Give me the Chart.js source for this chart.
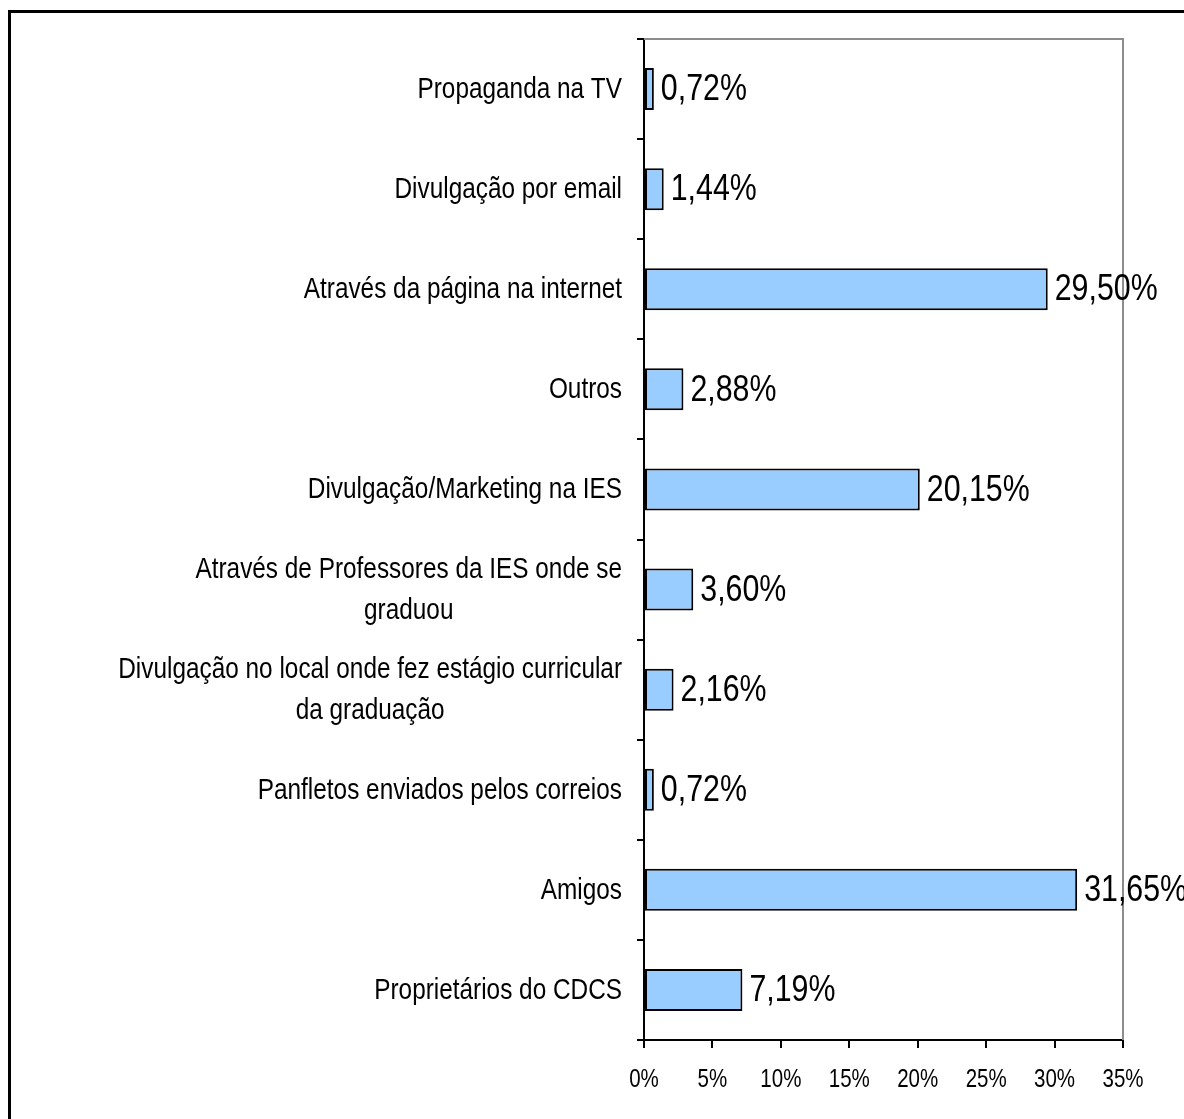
<!DOCTYPE html>
<html>
<head>
<meta charset="utf-8">
<script src="https://cdn.jsdelivr.net/npm/chart.js@4/dist/chart.umd.min.js"></script>
<style>
    html, body { margin: 0; padding: 0; background: #fff; overflow: hidden; }
    #frame {
        position: absolute; left: 8px; top: 10px;
        width: 1220px; height: 1150px;
        border: 3px solid #000;
    }
    #wrap { position: absolute; left: 0; top: 0; width: 1184px; height: 1119px; }
</style>
</head>
<body>
<div id="frame"></div>
<div id="wrap"><canvas id="origemChart" width="1184" height="1119"></canvas></div>
<script>
// Como soube do curso (% de respostas)
const categorias = [
    ['Propaganda na TV'],
    ['Divulgação por email'],
    ['Através da página na internet'],
    ['Outros'],
    ['Divulgação/Marketing na IES'],
    ['Através de Professores da IES onde se', 'graduou'],
    ['Divulgação no local onde fez estágio curricular', 'da graduação'],
    ['Panfletos enviados pelos correios'],
    ['Amigos'],
    ['Proprietários do CDCS']
];
const percentuais = [0.72, 1.44, 29.50, 2.88, 20.15, 3.60, 2.16, 0.72, 31.65, 7.19];
const eixoX = { min: 0, max: 35, passo: 5 };

const FONTE = "'Liberation Sans', Arial, sans-serif";
const ESTREITO = 0.82; // condensed look, like Arial Narrow

// writes text squeezed horizontally around its anchor point
function textoEstreito(ctx, txt, x, y, alinhamento, fator = ESTREITO) {
    ctx.save();
    ctx.translate(x, y);
    ctx.scale(fator, 1);
    ctx.textAlign = alinhamento;
    ctx.fillText(txt, 0, 0);
    ctx.restore();
}

// category labels: right-aligned as a block, lines centred inside the block
const rotulosCategoria = {
    id: 'rotulosCategoria',
    afterDraw(chart) {
        const ctx = chart.ctx;
        const y = chart.scales.y;
        const direita = y.right - 22;
        const fator = 0.84;
        ctx.save();
        ctx.font = '29px ' + FONTE;
        ctx.fillStyle = '#000';
        ctx.textBaseline = 'middle';
        const entrelinha = 41;
        categorias.forEach((linhas, i) => {
            const cy = y.getPixelForValue(i) + 1;
            const larg = Math.max(...linhas.map(l => ctx.measureText(l).width)) * fator;
            const cx = direita - larg / 2;
            const y0 = cy - (linhas.length - 1) * entrelinha / 2;
            linhas.forEach((l, k) => textoEstreito(ctx, l, cx, y0 + k * entrelinha, 'center', fator));
        });

        // x tick labels
        const x = chart.scales.x;
        ctx.font = '25px ' + FONTE;
        for (let v = eixoX.min; v <= eixoX.max; v += eixoX.passo) {
            textoEstreito(ctx, v + '%', x.getPixelForValue(v), 1080, 'center');
        }
        ctx.restore();
    }
};

// value labels at the end of each bar + grey frame on top/right of the plot
const rotulosValor = {
    id: 'rotulosValor',
    afterDatasetsDraw(chart) {
        const ctx = chart.ctx;
        const area = chart.chartArea;
        ctx.save();
        ctx.strokeStyle = '#8c8c8c';
        ctx.lineWidth = 2;
        ctx.beginPath();
        ctx.moveTo(area.left, area.top);
        ctx.lineTo(area.right, area.top);
        ctx.lineTo(area.right, area.bottom);
        ctx.stroke();

        const meta = chart.getDatasetMeta(0);
        ctx.font = '37px ' + FONTE;
        ctx.fillStyle = '#000';
        ctx.textBaseline = 'middle';
        meta.data.forEach((bar, i) => {
            const txt = percentuais[i].toFixed(2).replace('.', ',') + '%';
            textoEstreito(ctx, txt, bar.x + 7, bar.y + 1, 'left');
        });
        ctx.restore();
    }
};

new Chart(document.getElementById('origemChart'), {
    type: 'bar',
    data: {
        labels: categorias.map(c => c.join(' ')),
        datasets: [{
            data: percentuais,
            backgroundColor: '#99ccff',
            borderColor: '#000',
            borderWidth: 2,
            borderSkipped: false,
            categoryPercentage: 0.42,
            barPercentage: 1
        }]
    },
    options: {
        indexAxis: 'y',
        responsive: false,
        animation: false,
        events: [],
        layout: { padding: { top: 39, right: 61, left: 0, bottom: 0 } },
        plugins: {
            legend: { display: false },
            tooltip: { enabled: false }
        },
        scales: {
            y: {
                afterFit: s => { s.width = 644; },
                ticks: { display: false },
                grid: {
                    drawOnChartArea: false,
                    color: '#000',
                    lineWidth: 2,
                    tickLength: 7,
                    offset: true
                },
                border: { color: '#000', width: 2 }
            },
            x: {
                min: eixoX.min,
                max: eixoX.max,
                afterFit: s => { s.height = 79; },
                ticks: { stepSize: eixoX.passo, display: false },
                grid: {
                    drawOnChartArea: false,
                    color: '#000',
                    lineWidth: 2,
                    tickLength: 8
                },
                border: { color: '#000', width: 2 }
            }
        }
    },
    plugins: [rotulosCategoria, rotulosValor]
});
</script>
</body>
</html>
